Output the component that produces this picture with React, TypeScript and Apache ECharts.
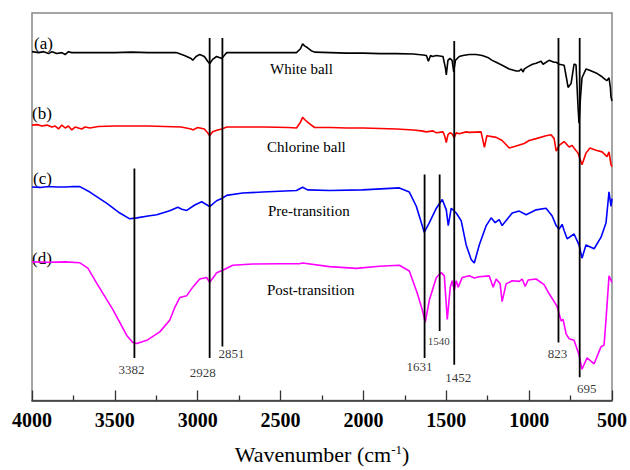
import React, { useEffect, useRef } from "react";
import * as echarts from "echarts";

// FTIR spectra: [wavenumber (cm-1), transmittance (a.u., offset)]
const whiteBall: [number, number][] = [
  [4000, 361], [3960, 360], [3930, 361], [3900, 359], [3880, 361], [3850, 359], [3820, 360], [3800, 358],
  [3780, 361], [3760, 360], [3700, 360], [3600, 360], [3500, 360], [3400, 360.5], [3300, 360], [3200, 360],
  [3130, 360], [3080, 357], [3040, 354], [3030, 352], [3010, 356], [2988, 358], [2960, 356], [2940, 351],
  [2928, 348.5], [2910, 353], [2886, 356], [2870, 355], [2855, 354], [2835, 358], [2825, 360], [2700, 360],
  [2600, 360], [2500, 360], [2404, 360], [2380, 364], [2367, 369], [2355, 367], [2337, 365], [2315, 362],
  [2295, 360.5], [2200, 360], [2100, 359.5], [2000, 359.5], [1900, 359], [1800, 359], [1700, 358.5],
  [1640, 357.5], [1620, 357], [1608, 351], [1595, 357], [1584, 356], [1560, 357], [1520, 356], [1505, 344],
  [1500, 337], [1490, 352], [1478, 354], [1465, 352], [1455, 340], [1445, 352], [1422, 356], [1400, 357],
  [1361, 358], [1320, 358], [1283, 357], [1250, 355], [1223, 352], [1199, 350], [1163, 347], [1120, 343],
  [1078, 341], [1060, 341], [1048, 343], [1036, 340], [1030, 343], [1012, 345], [980, 348], [958, 349],
  [928, 351], [916, 348], [880, 352], [849, 350], [837, 350], [819, 348], [789, 347], [775, 334],
  [765, 324], [747, 328], [729, 348], [723, 348], [717, 347], [705, 304], [699, 287], [690, 314],
  [681, 334], [657, 343], [639, 342], [596, 339], [560, 335], [540, 332], [530, 331], [518, 334],
  [510, 324], [506, 314], [500, 310],
];

const chlorineBall: [number, number][] = [
  [4000, 285], [3970, 285.5], [3940, 284], [3910, 285], [3880, 283], [3860, 284], [3840, 281], [3820, 285],
  [3800, 282], [3780, 284], [3760, 280], [3740, 283], [3720, 282], [3700, 281], [3680, 283], [3650, 282],
  [3600, 283.5], [3500, 284], [3400, 284], [3300, 284], [3200, 283.5], [3100, 283], [3040, 281], [3030, 280],
  [3000, 282.5], [2960, 281], [2940, 277], [2928, 274], [2910, 278], [2880, 280], [2855, 281], [2825, 283],
  [2700, 283], [2600, 283], [2450, 282.5], [2404, 282], [2380, 288], [2367, 293], [2350, 290], [2330, 287],
  [2295, 282.5], [2200, 282.5], [2100, 282], [2000, 282], [1900, 281.5], [1800, 281], [1700, 280],
  [1650, 279], [1620, 278], [1580, 279], [1560, 277], [1520, 278], [1510, 274], [1500, 267], [1490, 275],
  [1478, 277], [1465, 276], [1452, 272], [1440, 277], [1422, 276], [1380, 278], [1361, 277.5], [1290, 278],
  [1270, 262], [1255, 274], [1199, 272.3], [1163, 269], [1120, 261.3], [1078, 263.3], [1030, 266],
  [1000, 269], [958, 271], [898, 274], [868, 275], [849, 271], [837, 258], [819, 264], [789, 268],
  [759, 262.3], [741, 264], [705, 256], [681, 244], [657, 256], [633, 261.3], [596, 259], [560, 257.3],
  [530, 252.3], [518, 257.3], [506, 244], [500, 242],
];

const preTransition: [number, number][] = [
  [4000, 221], [3950, 220.5], [3900, 221.5], [3850, 221], [3800, 221], [3750, 221.5], [3711, 221.3],
  [3651, 215.7], [3548, 204], [3470, 194], [3410, 188], [3367, 189], [3300, 191], [3247, 192.3],
  [3169, 196.3], [3120, 200], [3096, 198], [3066, 196.7], [3018, 202.3], [2976, 205.7], [2928, 200.7],
  [2886, 206.7], [2855, 209], [2825, 212.3], [2729, 214.7], [2608, 215.7], [2404, 217.3], [2367, 220.7],
  [2337, 218], [2205, 217.3], [2006, 218], [1783, 220], [1723, 215.7], [1681, 201], [1633, 174],
  [1602, 184], [1560, 199], [1524, 208], [1500, 197.3], [1488, 181], [1470, 199], [1440, 194],
  [1410, 186], [1380, 161], [1350, 146], [1331, 142.3], [1301, 161], [1259, 181], [1229, 189],
  [1205, 184], [1181, 187.3], [1163, 181], [1102, 194], [1060, 196], [1018, 192.3], [958, 197.3],
  [898, 199], [861, 191], [837, 181], [819, 177.3], [801, 182.3], [789, 176], [771, 167.3], [729, 172.3],
  [699, 161], [681, 147.3], [657, 161], [608, 157], [566, 169], [536, 184], [518, 216], [506, 201],
  [500, 209],
];

const postTransition: [number, number][] = [
  [4000, 143.5], [3900, 143], [3800, 143.5], [3711, 142.5], [3663, 137], [3608, 121], [3512, 94],
  [3428, 67.3], [3392, 60], [3367, 59], [3349, 60], [3307, 62.3], [3229, 71], [3169, 83], [3139, 96],
  [3108, 106.5], [3066, 108.5], [3030, 117.3], [2988, 125.7], [2946, 127.3], [2928, 122.3], [2898, 129],
  [2886, 132.3], [2849, 134.7], [2789, 140], [2669, 141.3], [2500, 141.5], [2386, 141.5], [2367, 142.3],
  [2205, 138.5], [2042, 136.7], [1904, 139], [1783, 140], [1723, 134], [1675, 111], [1645, 94],
  [1627, 81], [1602, 104], [1560, 127.3], [1530, 132.3], [1512, 129], [1494, 84], [1476, 117.3],
  [1464, 124], [1452, 114], [1440, 124], [1428, 117.3], [1404, 127.3], [1361, 129], [1331, 126.7],
  [1301, 128], [1241, 129], [1217, 117.3], [1199, 125.7], [1175, 120.7], [1163, 102.3], [1139, 120.7],
  [1102, 124], [1060, 123.3], [1042, 125.7], [1024, 118], [1006, 124.7], [958, 125.7], [910, 120],
  [880, 110.7], [849, 102.3], [831, 97.3], [807, 82.3], [795, 84], [777, 69], [759, 64], [729, 62.3],
  [699, 47.3], [681, 32.3], [651, 44], [608, 38], [566, 55.7], [548, 57.3], [536, 84], [518, 129],
  [500, 122.3],
];

// Peak marker lines: wavenumber, top and bottom of the line
const peakWavenumbers = [3382, 2928, 2851, 1631, 1540, 1452, 823, 695];
const peakTops = [240, 375, 375, 234, 234, 372, 375, 375];
const peakBottoms = [44, 44, 56, 44, 72, 37, 60, 24];

const seriesNames = ["White ball", "Chlorine ball", "Pre-transition", "Post-transition"];
const seriesTags = ["(a)", "(b)", "(c)", "(d)"];

// styling (pixel offsets of peak labels, relative to the line's lower end)
const peakLabelOffsets: [number, number][] = [
  [-3, 2.5], [-7, 5.5], [9, -1.5], [-5, -0.5], [-1, 2.5], [4, 3.5], [-1, 1.5], [7, 2.5],
];
const peakLabelSizes = [13, 13, 13, 13, 11, 13, 13, 13];
const seriesColors = ["#000000", "#ff0000", "#0000ff", "#ff00ff"];
const tagPos: [number, number][] = [[34, 43], [32, 113], [33, 178], [32, 258]];
const namePos: [number, number][] = [[270, 69], [267, 147], [268, 211], [267, 290]];

const SERIF = "Liberation Serif";

export default function App() {
  const ref = useRef<HTMLDivElement>(null);
  useEffect(() => {
    if (!ref.current) return;
    const chart = echarts.init(ref.current, undefined, { renderer: "svg" });
    const spectra = [whiteBall, chlorineBall, preTransition, postTransition];

    const series: any[] = spectra.map((d, i) => ({
      name: seriesNames[i],
      type: "line",
      data: d,
      showSymbol: false,
      symbol: "none",
      lineStyle: { color: seriesColors[i], width: 1.6 },
      itemStyle: { color: seriesColors[i] },
      z: 2,
    }));

    peakWavenumbers.forEach((w, i) => {
      series.push({
        type: "line",
        data: [[w, peakTops[i]], [w, peakBottoms[i]]],
        showSymbol: false,
        symbol: "none",
        lineStyle: { color: "#000", width: 1.8 },
        z: 3,
      });
    });

    series.push({
      type: "scatter",
      symbolSize: 1,
      itemStyle: { color: "rgba(0,0,0,0)" },
      data: peakWavenumbers.map((w, i) => ({
        value: [w, peakBottoms[i]],
        label: {
          show: true,
          formatter: String(w),
          position: "bottom",
          distance: 2,
          offset: peakLabelOffsets[i],
          fontSize: peakLabelSizes[i],
          fontFamily: SERIF,
          color: "#000",
        },
      })),
      z: 4,
    });

    const graphic: any[] = [];
    seriesTags.forEach((t, i) => {
      graphic.push({
        type: "text",
        x: tagPos[i][0],
        y: tagPos[i][1],
        style: { text: t, fontFamily: SERIF, fontSize: 17, fill: "#000", verticalAlign: "middle", align: "left" },
      });
      graphic.push({
        type: "text",
        x: namePos[i][0],
        y: namePos[i][1],
        style: { text: seriesNames[i], fontFamily: SERIF, fontSize: 15, fill: "#000", verticalAlign: "middle", align: "left" },
      });
    });

    chart.setOption({
      animation: false,
      textStyle: { fontFamily: SERIF },
      grid: { left: 32, top: 13, right: 17, bottom: 56, show: true, borderColor: "#888", borderWidth: 1.5, backgroundColor: "transparent" },
      xAxis: {
        type: "value",
        min: 500,
        max: 4000,
        interval: 500,
        inverse: true,
        name: "Wavenumber (cm{sup|-1})",
        nameLocation: "middle",
        nameGap: 42,
        nameTextStyle: {
          fontFamily: SERIF,
          fontSize: 22,
          color: "#000",
          rich: { sup: { fontFamily: SERIF, fontSize: 13, verticalAlign: "top", padding: [0, 0, 10, 0], color: "#000" } },
        },
        axisLine: { show: true, lineStyle: { color: "#333", width: 1.5 } },
        axisTick: { show: true, inside: true, length: 10, lineStyle: { color: "#333", width: 1.3 } },
        minorTick: { show: true, splitNumber: 2, length: 5, lineStyle: { color: "#333", width: 1.3 } },
        axisLabel: {
          fontFamily: SERIF,
          fontSize: 20,
          fontWeight: "bold",
          color: "#000",
          margin: 9,
          formatter: (v: number) => String(v),
        },
        splitLine: { show: false },
        minorSplitLine: { show: false },
      },
      yAxis: {
        type: "value",
        min: 0,
        max: 401,
        show: false,
      },
      graphic,
      series,
    });
    return () => chart.dispose();
  }, []);
  return (
    <div
      ref={ref}
      style={{ position: "absolute", left: 0, top: 0, width: 630, height: 470, background: "#fff" }}
    />
  );
}
